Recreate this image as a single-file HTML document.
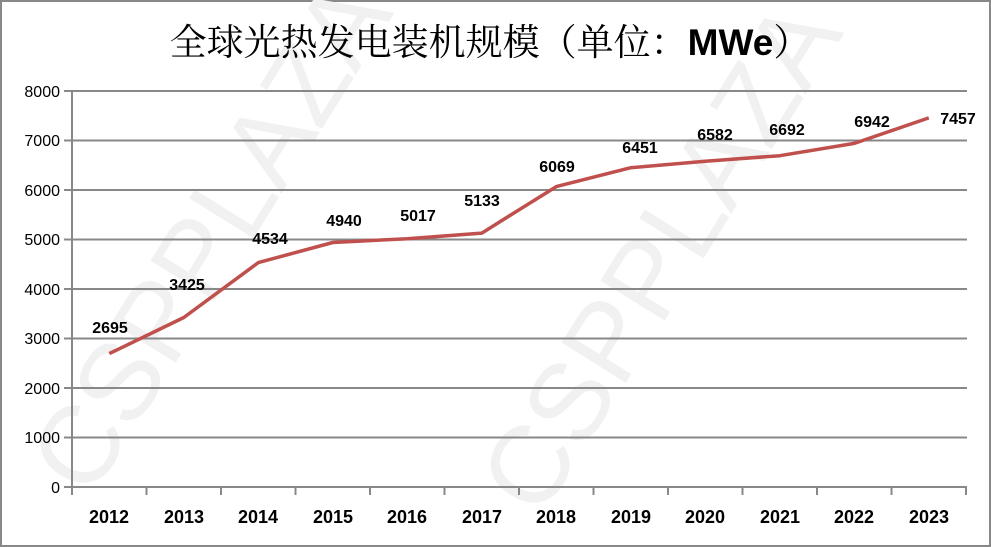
<!DOCTYPE html>
<html><head><meta charset="utf-8"><style>
body{margin:0;background:#fff}
svg{display:block}
</style></head><body>
<svg width="991" height="547" xmlns="http://www.w3.org/2000/svg">
<rect x="1" y="1" width="989" height="545" fill="#fff" stroke="#888" stroke-width="2"/>
<g font-family="Liberation Sans, sans-serif" font-size="110" fill="#f1f1f1" font-weight="normal">
<text transform="translate(90,500) rotate(-58)">CSPPLAZA</text>
<text transform="translate(540,520) rotate(-58)">CSPPLAZA</text>
</g>
<text x="490" y="55" text-anchor="middle" font-family="'Noto Serif CJK SC', serif" font-size="37" fill="#000">全球光热发电装机规模（单位：<tspan font-family="'Liberation Sans', sans-serif" font-weight="bold">MWe</tspan>）</text>
<g stroke="#888" stroke-width="2">
<line x1="64" y1="91" x2="967" y2="91"/>
<line x1="64" y1="140.5" x2="967" y2="140.5"/>
<line x1="64" y1="190" x2="967" y2="190"/>
<line x1="64" y1="239.5" x2="967" y2="239.5"/>
<line x1="64" y1="289" x2="967" y2="289"/>
<line x1="64" y1="338.5" x2="967" y2="338.5"/>
<line x1="64" y1="388" x2="967" y2="388"/>
<line x1="64" y1="437.5" x2="967" y2="437.5"/>
<line x1="64" y1="487" x2="967" y2="487"/>
<line x1="72" y1="91" x2="72" y2="495"/>
<line x1="146.5" y1="487" x2="146.5" y2="495"/><line x1="221" y1="487" x2="221" y2="495"/><line x1="295.5" y1="487" x2="295.5" y2="495"/><line x1="370" y1="487" x2="370" y2="495"/><line x1="444.5" y1="487" x2="444.5" y2="495"/><line x1="519" y1="487" x2="519" y2="495"/><line x1="593.5" y1="487" x2="593.5" y2="495"/><line x1="668" y1="487" x2="668" y2="495"/><line x1="742.5" y1="487" x2="742.5" y2="495"/><line x1="817" y1="487" x2="817" y2="495"/><line x1="891.5" y1="487" x2="891.5" y2="495"/><line x1="966" y1="487" x2="966" y2="495"/>
</g>
<g font-family="'Liberation Sans', sans-serif" font-size="16" fill="#000" text-anchor="end">
<text x="60" y="97">8000</text><text x="60" y="146">7000</text><text x="60" y="196">6000</text><text x="60" y="245">5000</text><text x="60" y="295">4000</text><text x="60" y="344">3000</text><text x="60" y="394">2000</text><text x="60" y="443">1000</text><text x="60" y="493">0</text>
</g>
<g font-family="'Liberation Sans', sans-serif" font-size="18" font-weight="bold" fill="#000" text-anchor="middle">
<text x="109" y="523">2012</text><text x="184" y="523">2013</text><text x="258" y="523">2014</text><text x="333" y="523">2015</text><text x="407" y="523">2016</text><text x="482" y="523">2017</text><text x="556" y="523">2018</text><text x="631" y="523">2019</text><text x="705" y="523">2020</text><text x="780" y="523">2021</text><text x="854" y="523">2022</text><text x="929" y="523">2023</text>
</g>
<polyline fill="none" stroke="#c0504d" stroke-width="3.5" stroke-linejoin="round" points="109.3,353.6 183.8,317.5 258.3,262.6 332.8,242.5 407.3,238.7 481.8,233.1 556.3,186.6 630.8,167.7 705.3,161.2 779.8,155.7 854.3,143.4 928.8,117.9"/>
<g font-family="'Liberation Sans', sans-serif" font-size="16" font-weight="bold" fill="#000" text-anchor="middle">
<text x="110" y="333">2695</text><text x="187" y="290">3425</text><text x="270" y="244">4534</text><text x="344" y="226">4940</text><text x="418" y="221">5017</text><text x="482" y="206">5133</text><text x="557" y="172">6069</text><text x="640" y="153">6451</text><text x="715" y="140">6582</text><text x="787" y="135">6692</text><text x="872" y="127">6942</text><text x="958" y="124">7457</text>
</g>
</svg>
</body></html>
